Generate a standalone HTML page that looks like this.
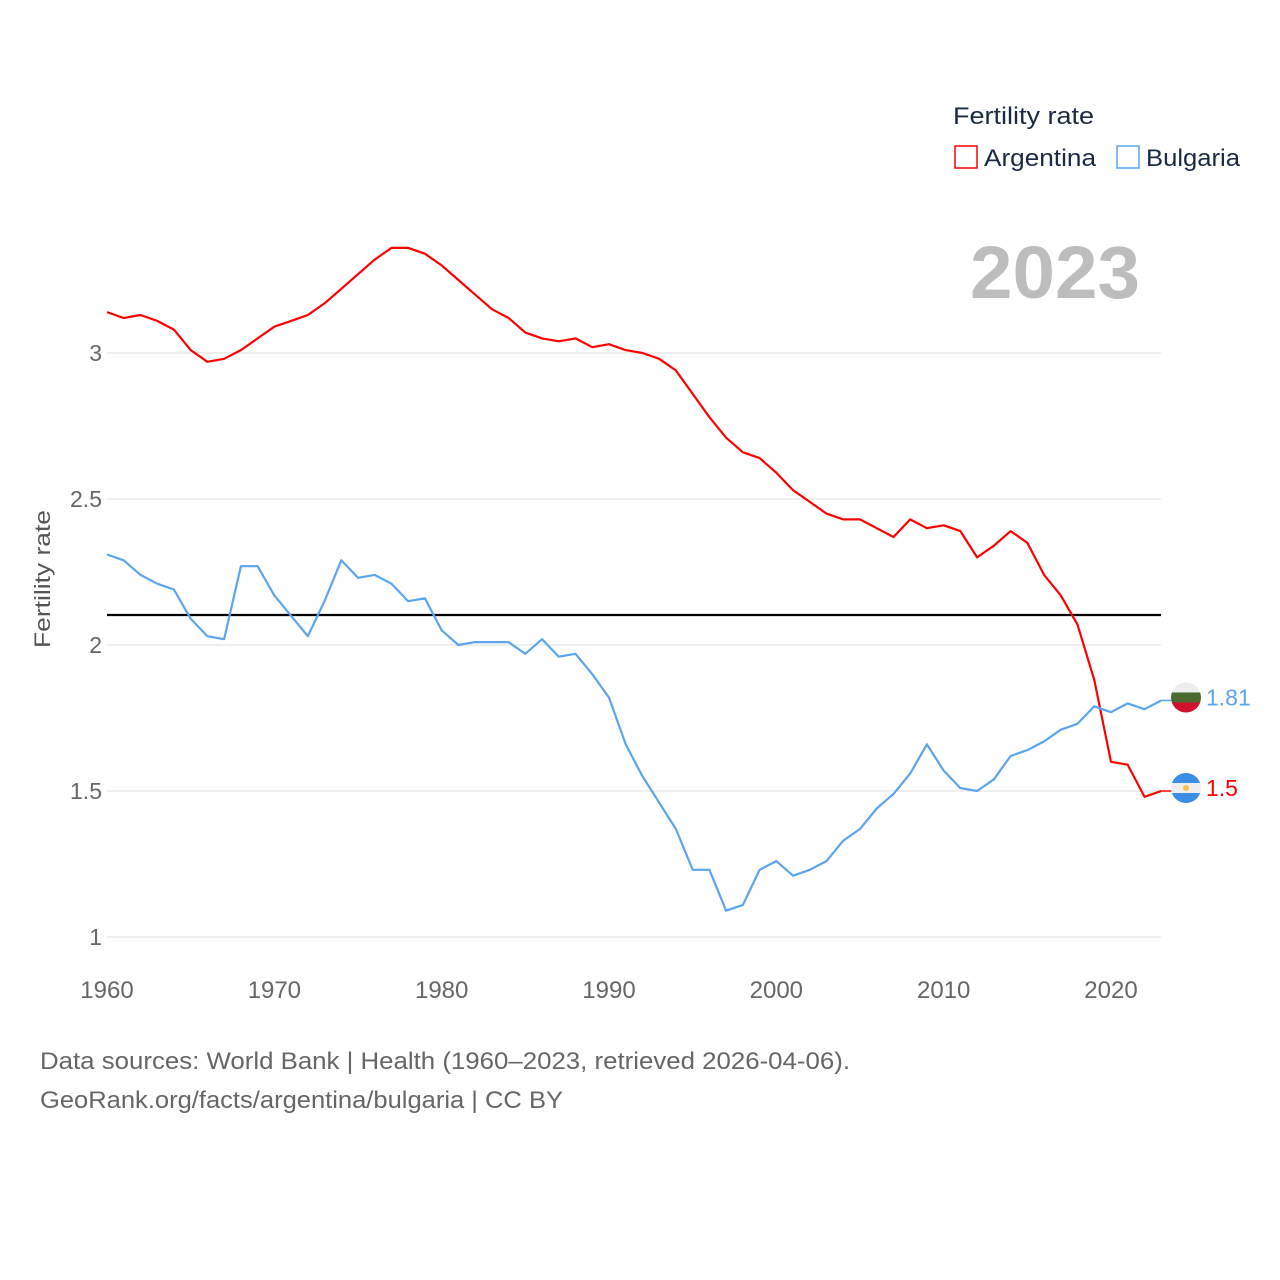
<!DOCTYPE html>
<html><head><meta charset="utf-8"><style>
body{margin:0;background:#fff;font-family:"Liberation Sans",sans-serif;}
svg{display:block}
</style></head><body>
<svg id="chart" width="1280" height="1280" viewBox="0 0 1280 1280">
<g id="grid"></g>
<g id="yticks"></g>
<g id="xticks"></g>
<text transform="translate(50,579) rotate(-90)" text-anchor="middle" font-size="22" textLength="138" lengthAdjust="spacingAndGlyphs" fill="#555">Fertility rate</text>
<text x="1140" y="298" text-anchor="end" font-size="74" font-weight="bold" fill="#bdbdbd" textLength="170" lengthAdjust="spacingAndGlyphs">2023</text>
<text x="953" y="124" font-size="24" fill="#1a2a44" textLength="141" lengthAdjust="spacingAndGlyphs">Fertility rate</text>
<g><rect x="955" y="146" width="22" height="22" fill="none" stroke="#ff0000" stroke-width="1.5"/><text x="984" y="166" font-size="24" fill="#1a2a44" textLength="112" lengthAdjust="spacingAndGlyphs">Argentina</text></g>
<g><rect x="1117" y="146" width="22" height="22" fill="none" stroke="#5aa5ee" stroke-width="1.5"/><text x="1146" y="166" font-size="24" fill="#1a2a44" textLength="94" lengthAdjust="spacingAndGlyphs">Bulgaria</text></g>
<line x1="107" x2="1161" y1="615" y2="615" stroke="#000" stroke-width="2.2"/>
<g id="series"></g>
<text x="40" y="1069" font-size="24" fill="#666" textLength="810" lengthAdjust="spacingAndGlyphs">Data sources: World Bank | Health (1960–2023, retrieved 2026-04-06).</text>
<text x="40" y="1108" font-size="24" fill="#666" textLength="523" lengthAdjust="spacingAndGlyphs">GeoRank.org/facts/argentina/bulgaria | CC BY</text>
</svg>
<script>
const years=[];for(let y=1960;y<=2023;y++)years.push(y);
const argentina=[3.14,3.12,3.13,3.11,3.08,3.01,2.97,2.98,3.01,3.05,3.09,3.11,3.13,3.17,3.22,3.27,3.32,3.36,3.36,3.34,3.30,3.25,3.20,3.15,3.12,3.07,3.05,3.04,3.05,3.02,3.03,3.01,3.00,2.98,2.94,2.86,2.78,2.71,2.66,2.64,2.59,2.53,2.49,2.45,2.43,2.43,2.40,2.37,2.43,2.40,2.41,2.39,2.30,2.34,2.39,2.35,2.24,2.17,2.07,1.88,1.60,1.59,1.48,1.50];
const bulgaria=[2.31,2.29,2.24,2.21,2.19,2.09,2.03,2.02,2.27,2.27,2.17,2.10,2.03,2.15,2.29,2.23,2.24,2.21,2.15,2.16,2.05,2.00,2.01,2.01,2.01,1.97,2.02,1.96,1.97,1.90,1.82,1.66,1.55,1.46,1.37,1.23,1.23,1.09,1.11,1.23,1.26,1.21,1.23,1.26,1.33,1.37,1.44,1.49,1.56,1.66,1.57,1.51,1.50,1.54,1.62,1.64,1.67,1.71,1.73,1.79,1.77,1.80,1.78,1.81];
const yTicks=[1,1.5,2,2.5,3];
const yTickLabels=["1","1.5","2","2.5","3"];
const xTicks=[1960,1970,1980,1990,2000,2010,2020];
const NS="http://www.w3.org/2000/svg";
const xs=y=>107+(y-1960)*(1111-107)/60;
const ys=v=>353+(3-v)*292;
function mk(tag,attrs,parent){const e=document.createElementNS(NS,tag);for(const k in attrs)e.setAttribute(k,attrs[k]);parent.appendChild(e);return e;}
const grid=document.getElementById('grid'),yt=document.getElementById('yticks'),xt=document.getElementById('xticks'),ser=document.getElementById('series');
yTicks.forEach((v,i)=>{
 const l=mk('line',{x1:107,x2:1161,y1:ys(v),y2:ys(v),stroke:'#e8e8e8','stroke-width':1.5},grid);
 
 
 const t=mk('text',{x:102,y:ys(v)+8,'text-anchor':'end','font-size':23,fill:'#666'},yt);
 t.textContent=yTickLabels[i];
 
 
});
xTicks.forEach(y=>{
 const t=mk('text',{x:xs(y),y:998,'text-anchor':'middle','font-size':24,fill:'#666'},xt);
 t.textContent=String(y);
 
 
});
function line(data,color,name){
 const d=data.map((v,i)=>(i?'L':'M')+xs(years[i]).toFixed(1)+','+ys(v).toFixed(1)).join('');
 const p=mk('path',{d:d,fill:'none',stroke:color,'stroke-width':2.2,'stroke-linejoin':'round'},ser);
 
 
}
line(argentina,'#ff0000','argentina');
line(bulgaria,'#5aa5ee','bulgaria');
function endLabel(data,color,name,flag){
 const v=data[data.length-1],x=xs(2023),y0=ys(v),y=y0-3;
 mk('line',{x1:x,x2:x+12,y1:y0,y2:y0,stroke:color,'stroke-width':1.5},ser);
 const g=mk('g',{},ser);
 
 
 const cx=1186,r=15;
 const cp=mk('clipPath',{id:'c'+name},g);mk('circle',{cx:cx,cy:y,r:r},cp);
 const gg=mk('g',{'clip-path':'url(#c'+name+')'},g);
 flag.forEach((c,i)=>mk('rect',{x:cx-r,y:y-r+i*2*r/3,width:2*r,height:2*r/3+0.5,fill:c},gg));
 if(name==='argentina')mk('circle',{cx:cx,cy:y,r:3,fill:'#f6c343'},gg);
 const t=mk('text',{x:1206,y:y+8,'font-size':23,fill:color},ser);
 t.textContent=String(v);
 
 
}
endLabel(bulgaria,'#5aa5ee','bulgaria',['#eeeeee','#4a6b30','#d0102c']);
endLabel(argentina,'#ff0000','argentina',['#3a8ee6','#eeeeee','#3a8ee6']);
</script>
</body></html>
